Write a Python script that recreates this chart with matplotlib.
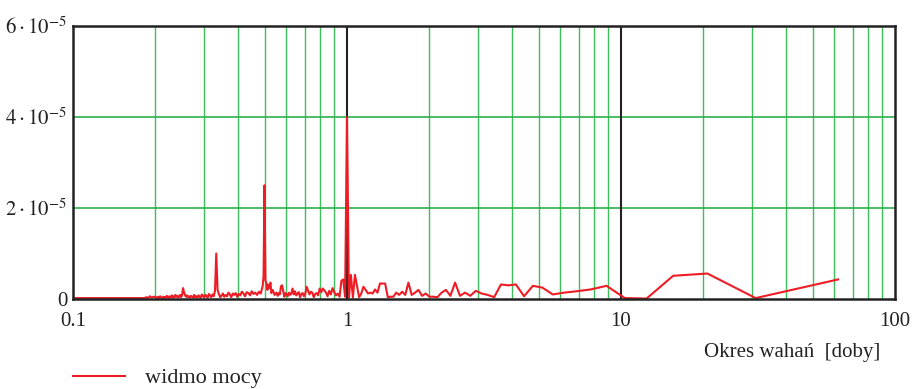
import matplotlib
matplotlib.use("Agg")
import matplotlib.pyplot as plt
from matplotlib.ticker import FixedLocator, NullFormatter
import numpy as np

plt.rcParams['font.family'] = ['Liberation Serif', 'DejaVu Serif']
plt.rcParams['mathtext.fontset'] = 'stix'

# dlugosc serii [doby]; okres = N_DAYS / k
N_DAYS = 62

# k = 1..125 (co 1)
k_a = np.arange(1, 126)
p_a = [4.3, 0.2, 5.6, 5.1, 0.1, 0.2, 2.9, 2.1, 1.7, 1.4,
       1.0, 2.5, 2.9, 0.6, 3.2, 3.0, 3.2, 0.4, 0.9, 1.2,
       1.8, 0.7, 1.4, 0.7, 3.6, 0.7, 2.0, 1.4, 0.4, 0.5,
       0.5, 1.2, 0.7, 2.0, 1.4, 0.9, 3.6, 0.9, 1.6, 0.9,
       1.4, 0.5, 0.5, 0.4, 3.4, 3.4, 3.4, 1.4, 2.1, 1.2,
       1.4, 1.2, 2.0, 2.7, 1.2, 0.4, 2.9, 5.3, 0.3, 5.3,
       0.3, 40.0, 0.5, 4.3, 4.0, 0.5, 1.2, 0.8, 1.5, 2.4,
       1.0, 1.8, 0.6, 1.4, 1.9, 2.3, 1.5, 2.3, 0.8, 1.3,
       1.1, 0.4, 1.4, 1.6, 1.0, 1.8, 2.7, 1.2, 0.6, 1.3,
       1.1, 0.4, 1.5, 1.2, 0.8, 1.7, 1.0, 2.3, 1.2, 0.9,
       1.4, 0.6, 1.1, 1.3, 0.5, 1.8, 3.0, 2.8, 1.0, 1.3,
       0.7, 1.4, 1.1, 0.9, 1.6, 2.0, 1.3, 3.6, 2.4, 3.1,
       2.0, 3.5, 4.0, 25.0, 5.0]

# k = 126..310 (co 2)
k_b = np.arange(126, 311, 2)
p_b = [2.8, 1.2, 1.6, 0.9, 1.4, 1.1, 1.7, 0.8, 1.3, 1.5,
       0.6, 1.2, 1.6, 0.8, 1.1, 0.5, 1.3, 0.9, 1.2, 0.4,
       1.0, 1.4, 0.6, 0.9, 0.5, 1.2, 0.7, 0.4, 1.1, 2.0,
       10.0,
       1.8, 0.6, 1.0, 0.4, 0.8, 1.1, 0.3, 0.7, 0.9, 0.4,
       0.6, 1.0, 0.3, 0.5, 0.8, 0.3, 0.6, 0.4, 0.9, 0.3,
       0.5, 0.7, 0.3, 0.6, 0.4, 0.8, 0.5, 0.9, 1.5, 2.4,
       0.8, 0.4, 0.9, 0.6, 0.3, 0.7, 0.5, 0.9, 0.4, 0.6,
       0.3, 0.8, 0.5, 0.3, 0.6, 0.2, 0.5, 0.7, 0.3, 0.4,
       0.2, 0.5, 0.3, 0.2, 0.4, 0.6, 0.3, 0.2, 0.5, 0.3,
       0.2, 0.4]

# k = 315..620 (co 5)
k_c = np.arange(315, 621, 5)
p_c = [0.5, 0.3, 0.6, 0.2, 0.4, 0.2, 0.2, 0.2, 0.2, 0.2,
       0.2, 0.2, 0.2, 0.2, 0.2, 0.2, 0.2, 0.2, 0.2, 0.2,
       0.2, 0.2, 0.2, 0.2, 0.2, 0.2, 0.2, 0.2, 0.2, 0.2,
       0.2, 0.2, 0.2, 0.2, 0.2, 0.2, 0.2, 0.2, 0.2, 0.2,
       0.2, 0.2, 0.2, 0.2, 0.2, 0.2, 0.2, 0.2, 0.2, 0.2,
       0.2, 0.2, 0.2, 0.2, 0.2, 0.2, 0.2, 0.2, 0.2, 0.2,
       0.2, 0.2]

k_all = np.concatenate([k_a, k_b, k_c])
okres = N_DAYS / k_all
widmo = np.concatenate([p_a, p_b, p_c]) * 1e-6

fig = plt.figure(figsize=(9.15, 3.89), dpi=100)
ax = fig.add_axes([73/915, 1-299/389, 822/915, 273/389])

ax.plot(okres, widmo, color='#ee1c25', lw=1.5, zorder=3)

ax.set_xscale('log')
ax.set_xlim(0.1, 100)
ax.set_ylim(0, 6e-5)

# siatka: zielone linie pomocnicze, czarne na dekadach
minors = [m * d for d in (0.1, 1, 10) for m in range(2, 10)]
for xv in minors:
    ax.axvline(xv, color='#3dbf5c', lw=1.0, zorder=1)
for xv in (1, 10):
    ax.axvline(xv, color='#222222', lw=1.5, zorder=2)
for yv in (2e-5, 4e-5, 6e-5):
    ax.axhline(yv, color='#2eb04e', lw=1.2, zorder=1)

ax.xaxis.set_major_locator(FixedLocator([0.1, 1, 10, 100]))
ax.xaxis.set_minor_formatter(NullFormatter())
ax.set_xticklabels(['0.1', '1', '10', '100'])
ax.set_yticks([0, 2e-5, 4e-5, 6e-5])
ax.set_yticklabels(['0', r'$2\cdot10^{-5}$', r'$4\cdot10^{-5}$', r'$6\cdot10^{-5}$'])
ax.tick_params(axis='both', which='both', length=0, labelsize=15, colors='#222222')
ax.tick_params(axis='x', pad=9)
ax.tick_params(axis='y', pad=4)

for s in ax.spines.values():
    s.set_color('#222222')
    s.set_linewidth(1.8)
    s.set_zorder(4)

fig.text(880/915, 1-352/389, 'Okres wahań  [doby]', ha='right', va='center',
         fontsize=15, color='#222222')

fig.lines.append(plt.Line2D([73/915, 125/915], [1-376/389, 1-376/389],
                            transform=fig.transFigure, color='#ee1c25', lw=1.5))
fig.text(145/915, 1-378/389, 'widmo mocy', ha='left', va='center',
         fontsize=16, color='#222222')

fig.savefig('out.png', dpi=100)
